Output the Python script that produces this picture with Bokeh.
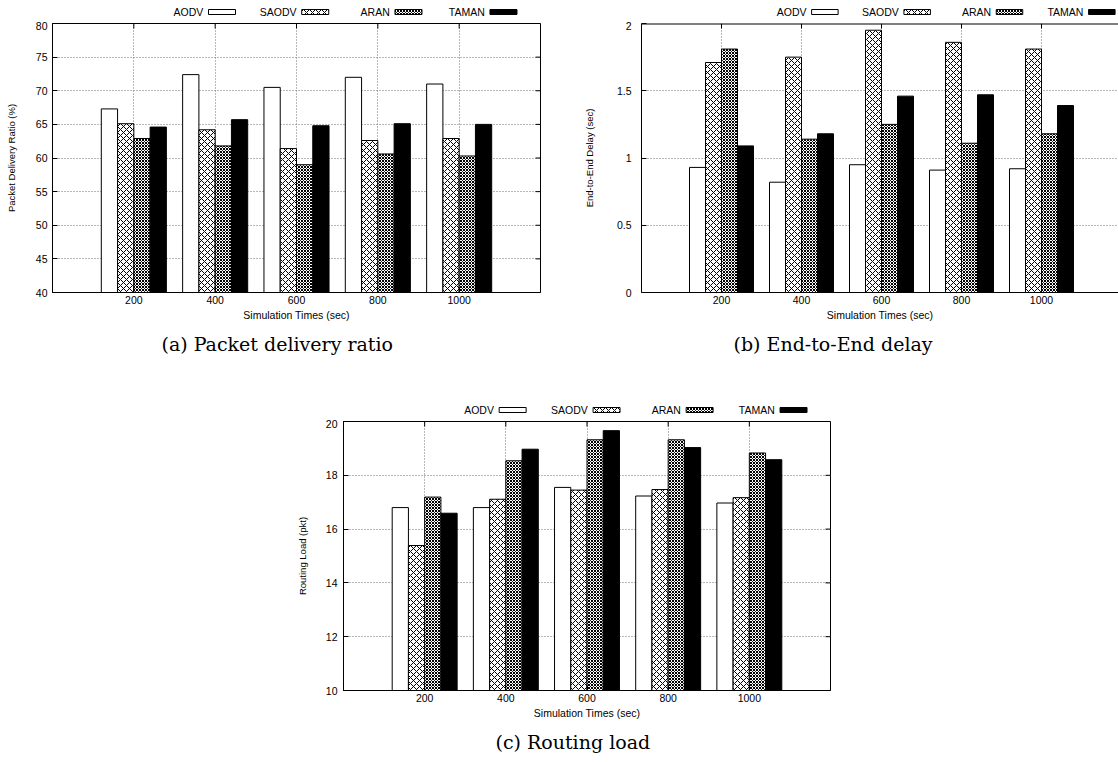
from bokeh.plotting import figure
from bokeh.models import (ColumnDataSource, Range1d, FixedTicker, Title,
                          Spacer, CustomJSTickFormatter)
from bokeh.layouts import column, row
from bokeh.transform import dodge
from bokeh.core.properties import value
from bokeh.embed import file_html
from bokeh.resources import INLINE

# ---------------- data ----------------
times = [200, 400, 600, 800, 1000]
series_names = ["AODV", "SAODV", "ARAN", "TAMAN"]

pdr_aodv = [67.3, 72.4, 70.5, 72.0, 71.0]
pdr_saodv = [65.1, 64.2, 61.4, 62.6, 62.9]
pdr_aran = [62.9, 61.8, 59.0, 60.6, 60.3]
pdr_taman = [64.6, 65.7, 64.8, 65.1, 65.0]

delay_aodv = [0.93, 0.82, 0.95, 0.91, 0.92]
delay_saodv = [1.71, 1.75, 1.95, 1.86, 1.81]
delay_aran = [1.81, 1.14, 1.25, 1.11, 1.18]
delay_taman = [1.09, 1.18, 1.46, 1.47, 1.39]

load_aodv = [16.8, 16.8, 17.55, 17.23, 16.97]
load_saodv = [15.39, 17.11, 17.45, 17.47, 17.17]
load_aran = [17.19, 18.54, 19.32, 19.32, 18.83]
load_taman = [16.59, 18.97, 19.66, 19.03, 18.58]

pdr_ticks = [40, 45, 50, 55, 60, 65, 70, 75, 80]
delay_ticks = [0, 0.5, 1, 1.5, 2]
load_ticks = [10, 12, 14, 16, 18, 20]

x_label = "Simulation Times (sec)"
caption_a = "(a) Packet delivery ratio"
caption_b = "(b) End-to-End delay"
caption_c = "(c) Routing load"

# ---------------- style ----------------
FONT = "Liberation Sans"
SERIF = "DejaVu Serif"
FS = "10.5px"
FRAME_H = 269
TICK = 5
bar_styles = {
    "AODV": dict(fill_color="white"),
    "SAODV": dict(fill_color="white", hatch_pattern="diagonal_cross", hatch_scale=6,
                  hatch_weight=1, hatch_color="black"),
    "ARAN": dict(fill_color="white", hatch_pattern="diagonal_cross", hatch_scale=3,
                 hatch_weight=1, hatch_color="black"),
    "TAMAN": dict(fill_color="black"),
}
offsets = [-60, -20, 20, 60]
jsfmt = "return tick.toString();"


def make_main(vals, ymin, ymax, yticks, ylabel, border_left, frame_w, x_end, border_right,
              tick_standoff, ylab_standoff, caption, cap_offset, full_box):
    p = figure(x_range=Range1d(0, x_end), y_range=Range1d(ymin, ymax),
               frame_width=frame_w, frame_height=FRAME_H,
               min_border_left=border_left, min_border_right=border_right,
               min_border_top=2, min_border_bottom=70,
               output_backend="svg", toolbar_location=None,
               x_axis_label=x_label, y_axis_label=ylabel)
    p.background_fill_color = "white"
    p.border_fill_color = "white"
    p.xaxis.ticker = FixedTicker(ticks=times)
    p.yaxis.ticker = FixedTicker(ticks=yticks)
    p.yaxis.formatter = CustomJSTickFormatter(code=jsfmt)
    for ax in (p.xaxis[0], p.yaxis[0]):
        ax.major_tick_in = TICK
        ax.major_tick_out = 0
        ax.minor_tick_in = 0
        ax.minor_tick_out = 0
        ax.major_label_text_font = FONT
        ax.major_label_text_font_size = FS
        ax.major_label_text_color = "black"
        ax.axis_label_text_font = FONT
        ax.axis_label_text_font_style = "normal"
        ax.axis_label_text_color = "black"
        ax.axis_line_color = "black"
        ax.major_tick_line_color = "black"
    p.xaxis.axis_label_text_font_size = FS
    p.yaxis.axis_label_text_font_size = "9.5px"
    p.xaxis.major_label_standoff = 3
    p.xaxis.axis_label_standoff = 2
    p.yaxis.major_label_standoff = tick_standoff
    p.yaxis.axis_label_standoff = ylab_standoff
    p.grid.grid_line_color = "#707070"
    p.grid.grid_line_dash = "1 2"
    p.grid.grid_line_width = 1
    p.outline_line_color = "black" if full_box else None

    # mirrored (inward) ticks on the top border
    dy = (ymax - ymin) * TICK / FRAME_H
    p.segment(x0=times, y0=[ymax] * len(times), x1=times, y1=[ymax - dy] * len(times),
              line_color="black", line_width=1)
    if full_box:
        dx = x_end * TICK / frame_w
        p.segment(x0=[x_end] * len(yticks), y0=yticks, x1=[x_end - dx] * len(yticks),
                  y1=yticks, line_color="black", line_width=1)
    else:
        # top border line of the (cut off) frame
        p.segment(x0=[0], y0=[ymax], x1=[x_end], y1=[ymax], line_color="black",
                  line_width=2)

    src = ColumnDataSource(dict(t=times, AODV=vals[0], SAODV=vals[1], ARAN=vals[2], TAMAN=vals[3]))
    for name, off in zip(series_names, offsets):
        p.vbar(x=dodge("t", off), top=name, bottom=ymin, width=40, source=src,
               line_color="black", line_width=1, **bar_styles[name])

    t = Title(text=caption, align="left", offset=cap_offset, text_font=SERIF,
              text_font_size="19px", text_font_style="normal", text_color="black",
              standoff=15)
    p.add_layout(t, "below")
    return p


def make_legend(x0, x1, swatch_starts):
    lf = figure(x_range=Range1d(x0, x1), y_range=Range1d(21, 0), width=x1 - x0, height=21,
                min_border=0, output_backend="svg", toolbar_location=None,
                x_axis_location=None, y_axis_location=None)
    lf.grid.visible = False
    lf.outline_line_color = None
    for name, s in zip(series_names, swatch_starts):
        lf.rect(x=[s + 15.5], y=[11.5], width=31, height=5, line_color="black",
                line_width=1, **bar_styles[name])
        lf.text(x=[s - 6], y=[11.5], text=[name], text_align="right", text_baseline="middle",
                text_font=value(FONT), text_font_size=FS, text_color="black")
    return lf


p_a = make_main([pdr_aodv, pdr_saodv, pdr_aran, pdr_taman], 40, 80, pdr_ticks,
                "Packet Delivery Ratio (%)", 52, 488, 1200, 20, 5, 16, caption_a, 109, True)
p_b = make_main([delay_aodv, delay_saodv, delay_aran, delay_taman], 0, 2, delay_ticks,
                "End-to-End Delay (sec)", 81, 477, 1192.5, 0, 10, 19, caption_b, 92, False)
p_c = make_main([load_aodv, load_saodv, load_aran, load_taman], 10, 20, load_ticks,
                "Routing Load (pkt)", 53, 487, 1200, 20, 6, 15, caption_c, 152, True)

leg_a = make_legend(0, 560, [179, 286, 393, 502])
leg_b = make_legend(560, 1118, [759, 867, 975, 1083])
leg_c = make_legend(290, 850, [469, 577, 684, 792])

row1 = row(column(leg_a, p_a), column(leg_b, p_b))
row2 = row(Spacer(width=290, height=10), column(leg_c, p_c))
root = column(row1, Spacer(width=10, height=36), row2)

open("out.html", "w").write(file_html(root, INLINE))
